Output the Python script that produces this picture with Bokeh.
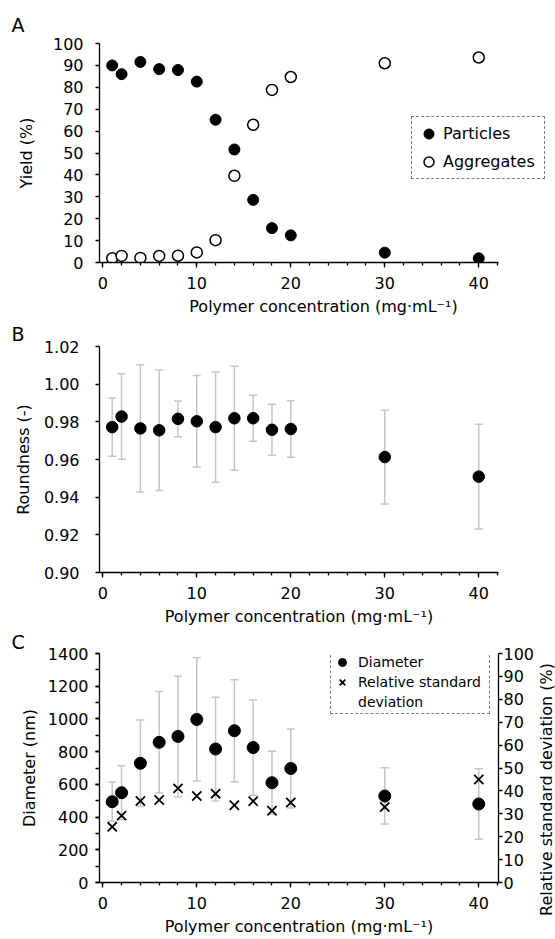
from bokeh.plotting import figure
from bokeh.layouts import column, row
from bokeh.models import (ColumnDataSource, Whisker, TeeHead, FixedTicker, Range1d, LinearAxis,
                          Legend, LegendItem, Label, Title, PrintfTickFormatter)
from bokeh.embed import file_html
from bokeh.resources import INLINE
import math

# ---------------- data ----------------
conc = [1, 2, 4, 6, 8, 10, 12, 14, 16, 18, 20, 30, 40]
yield_particles = [90.0, 86.0, 91.6, 88.3, 87.9, 82.6, 65.2, 51.6, 28.6, 15.7, 12.4, 4.5, 1.9]
yield_aggregates = [1.9, 3.0, 2.1, 3.0, 3.1, 4.6, 10.2, 39.6, 62.9, 78.8, 84.7, 91.0, 93.6]
roundness = [0.9772, 0.9828, 0.9765, 0.9755, 0.9816, 0.9803, 0.9772, 0.9819, 0.9819, 0.9758, 0.9762, 0.9613, 0.9509]
roundness_sd = [0.0155, 0.0227, 0.0338, 0.0320, 0.0095, 0.0243, 0.0293, 0.0276, 0.0122, 0.0135, 0.0150, 0.0249, 0.0278]
diameter = [494, 549, 729, 857, 893, 997, 816, 928, 825, 610, 697, 529, 480]
diameter_sd = [120, 164, 264, 310, 368, 377, 317, 312, 291, 192, 241, 172, 215]
rsd = [24.3, 29.2, 35.6, 36.0, 41.1, 37.8, 38.8, 33.7, 35.5, 31.3, 34.9, 33.0, 45.0]

x_major_ticks = [0, 10, 20, 30, 40]
x_minor_ticks = [0, 2, 4, 6, 8, 10, 12, 14, 16, 18, 20, 22, 24, 26, 28, 30, 32, 34, 36, 38, 40, 42]
yield_ticks = [0, 10, 20, 30, 40, 50, 60, 70, 80, 90, 100]
round_ticks = [0.90, 0.92, 0.94, 0.96, 0.98, 1.00, 1.02]
diam_ticks = [0, 200, 400, 600, 800, 1000, 1200, 1400]
diam_minor = [0, 100, 200, 300, 400, 500, 600, 700, 800, 900, 1000, 1100, 1200, 1300, 1400]
rsd_ticks = [0, 10, 20, 30, 40, 50, 60, 70, 80, 90, 100]

x_title = "Polymer concentration (mg·mL⁻¹)"

FONT = "DejaVu Sans"
LEFT = 99
FRAME_W = 399
X0, X1 = -0.35, 42.1
SCALE = FRAME_W / (X1 - X0)
ERR = "#c6c6c6"


def style_axis(ax, tick_out=4, label_standoff=4, title_standoff=3):
    ax.axis_line_color = "black"
    ax.axis_line_width = 1.3
    ax.major_tick_line_color = "black"
    ax.major_tick_line_width = 1.3
    ax.minor_tick_line_color = "black"
    ax.minor_tick_line_width = 1.3
    ax.major_tick_in = 0
    ax.major_tick_out = tick_out
    ax.minor_tick_in = 0
    ax.minor_tick_out = 3
    ax.major_label_text_font = FONT
    ax.major_label_text_font_size = "16px"
    ax.major_label_text_color = "black"
    ax.major_label_standoff = label_standoff
    ax.axis_label_text_font = FONT
    ax.axis_label_text_font_size = "16px"
    ax.axis_label_text_font_style = "normal"
    ax.axis_label_text_color = "black"
    ax.axis_label_standoff = title_standoff


def make_fig(width, right, height, top, bottom, y_range, ylab, y_ticks, y_minor,
             lab_standoff, title_standoff):
    frame_w = width - LEFT - right
    x_end = X0 + frame_w / SCALE
    p = figure(width=width, height=height, x_range=Range1d(X0, x_end), y_range=y_range,
               output_backend="svg", toolbar_location=None,
               min_border_left=LEFT, min_border_right=right,
               min_border_top=top, min_border_bottom=bottom)
    p.frame_align = False
    p.grid.visible = False
    p.outline_line_color = None
    p.background_fill_color = "white"
    p.border_fill_color = "white"
    xa = p.xaxis[0]
    xa.ticker = FixedTicker(ticks=x_major_ticks, minor_ticks=x_minor_ticks)
    xa.bounds = (X0, X1)
    xa.axis_label = x_title
    style_axis(xa, tick_out=5, label_standoff=9, title_standoff=5)
    ya = p.yaxis[0]
    ya.ticker = FixedTicker(ticks=y_ticks, minor_ticks=y_minor)
    ya.axis_label = ylab
    style_axis(ya, tick_out=4, label_standoff=lab_standoff, title_standoff=title_standoff)
    if not y_minor:
        ya.minor_tick_line_color = None
    return p


def letter(p, txt, standoff):
    p.add_layout(Title(text=txt, align="left", offset=-88, standoff=standoff,
                       text_font=FONT, text_font_size="19px", text_font_style="normal",
                       text_color="black"), "above")


# ---------------- Panel A ----------------
pA = make_fig(555, 8, 318, 43, 52, Range1d(0, 100), "Yield (%)", yield_ticks, [], 12, 14)
srcA = ColumnDataSource(dict(x=conc, p=yield_particles, a=yield_aggregates))
rp = pA.scatter("x", "p", source=srcA, size=11, marker="circle",
                fill_color="black", line_color="black")
ra = pA.scatter("x", "a", source=srcA, size=11, marker="circle",
                fill_color="white", line_color="black", line_width=1.5)
legA = Legend(items=[LegendItem(label="Particles", renderers=[rp]),
                     LegendItem(label="Aggregates", renderers=[ra])],
              location=(312, 83), orientation="vertical",
              border_line_color="black", border_line_dash="4 2", border_line_width=1.3,
              background_fill_color="white", background_fill_alpha=1.0,
              padding=4, spacing=3, glyph_width=25, glyph_height=25, label_height=25,
              label_standoff=2, label_width=97, margin=0,
              label_text_font=FONT, label_text_font_size="16px", label_text_color="black")
pA.add_layout(legA, "center")
letter(pA, "A", 16)

# ---------------- Panel B ----------------
pB = make_fig(555, 57, 310, 26, 53, Range1d(0.90, 1.02), "Roundness (-)", round_ticks, [], 16, 8)
pB.yaxis[0].formatter = PrintfTickFormatter(format="%.2f")
srcB = ColumnDataSource(dict(x=conc, y=roundness,
                             up=[m + s for m, s in zip(roundness, roundness_sd)],
                             lo=[m - s for m, s in zip(roundness, roundness_sd)]))
wB = Whisker(base="x", upper="up", lower="lo", source=srcB, line_color=ERR, line_width=1.5,
             upper_head=TeeHead(size=8, line_color=ERR, line_width=1.5),
             lower_head=TeeHead(size=8, line_color=ERR, line_width=1.5), level="underlay")
pB.add_layout(wB)
pB.scatter("x", "y", source=srcB, size=11.5, marker="circle", fill_color="black", line_color="black")
letter(pB, "B", 4)

# ---------------- Panel C ----------------
pC = make_fig(538, 40, 311, 24, 57, Range1d(0, 1400), "Diameter (nm)", diam_ticks, diam_minor, 7, 6)
pC.yaxis[0].minor_tick_out = 4
pC.extra_y_ranges = {"rsd": Range1d(0, 100)}
rax = LinearAxis(y_range_name="rsd", ticker=FixedTicker(ticks=rsd_ticks, minor_ticks=[]))
style_axis(rax, tick_out=4, label_standoff=1, title_standoff=0)
rax.minor_tick_line_color = None
pC.add_layout(rax, "right")

srcC = ColumnDataSource(dict(x=conc, d=diameter, r=rsd,
                             up=[m + s for m, s in zip(diameter, diameter_sd)],
                             lo=[m - s for m, s in zip(diameter, diameter_sd)]))
wC = Whisker(base="x", upper="up", lower="lo", source=srcC, line_color=ERR, line_width=1.5,
             upper_head=TeeHead(size=8, line_color=ERR, line_width=1.5),
             lower_head=TeeHead(size=8, line_color=ERR, line_width=1.5), level="underlay")
pC.add_layout(wC)
rd = pC.scatter("x", "d", source=srcC, size=12, marker="circle", fill_color="black", line_color="black")
rr = pC.scatter("x", "r", source=srcC, y_range_name="rsd", size=13, marker="x",
                line_color="black", line_width=1.8)
dummy = pC.scatter(x=[], y=[], size=1, marker="circle", fill_alpha=0, line_alpha=0)
legC = Legend(items=[LegendItem(label="Diameter", renderers=[rd]),
                     LegendItem(label="Relative standard", renderers=[rr]),
                     LegendItem(label="deviation", renderers=[dummy])],
              location=(231, 168), orientation="vertical",
              border_line_color="black", border_line_dash="4 2", border_line_width=1.3,
              background_fill_color="white", background_fill_alpha=1.0,
              padding=1, spacing=0, glyph_width=20, glyph_height=20, label_height=20,
              label_standoff=6, label_width=130, margin=0,
              label_text_font=FONT, label_text_font_size="14px", label_text_color="black")
pC.add_layout(legC, "center")
letter(pC, "C", 1)

# narrow strip carrying the right-hand axis title (reads bottom to top)
pR = figure(width=17, height=311, x_range=Range1d(0, 1), y_range=Range1d(0, 1),
            x_axis_type=None, y_axis_type=None, min_border=0,
            output_backend="svg", toolbar_location=None)
pR.frame_align = False
pR.outline_line_color = None
pR.grid.visible = False
pR.add_layout(Label(x=7.5, y=150, x_units="screen", y_units="screen",
                    text="Relative standard deviation (%)", angle=math.pi / 2,
                    text_font=FONT, text_font_size="16px", text_color="black",
                    text_align="center", text_baseline="middle"))

layout = column(pA, pB, row(pC, pR))
open("out.html", "w").write(file_html(layout, INLINE))
